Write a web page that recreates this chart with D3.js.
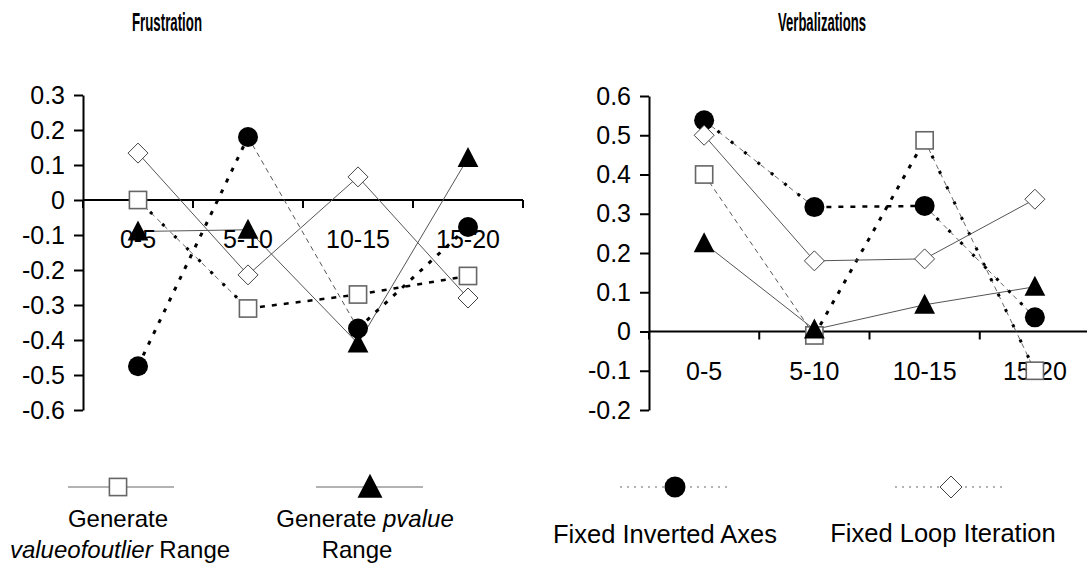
<!DOCTYPE html>
<html>
<head>
<meta charset="utf-8">
<script src="https://cdn.jsdelivr.net/npm/d3@7"></script>
<style>
  body { margin: 0; background: #fff; }
  svg { display: block; font-family: Arial, "Liberation Sans", sans-serif; }
</style>
</head>
<body>
<svg id="chart" width="1087" height="564"></svg>
<script>
const categories = ['0-5', '5-10', '10-15', '15-20'];
const seriesNames = ['valueofoutlier', 'pvalue', 'invertedAxes', 'loopIteration'];

// Frustration panel
const frustrationTicks = [0.3, 0.2, 0.1, 0, -0.1, -0.2, -0.3, -0.4, -0.5, -0.6];
const frustrationOutlier = [0, -0.31, -0.27, -0.217];
const frustrationPvalue = [-0.09, -0.085, -0.41, 0.12];
const frustrationInverted = [-0.475, 0.18, -0.367, -0.077];
const frustrationLoop = [0.134, -0.214, 0.066, -0.28];

// Verbalizations panel
const verbalTicks = [0.6, 0.5, 0.4, 0.3, 0.2, 0.1, 0, -0.1, -0.2];
const verbalOutlier = [0.40, -0.01, 0.487, -0.1];
const verbalPvalue = [0.225, 0.005, 0.068, 0.114];
const verbalInverted = [0.538, 0.317, 0.32, 0.036];
const verbalLoop = [0.50, 0.18, 0.185, 0.337];

// line style of each segment, per series (from the picture)
const frustrationSegs = [['mix', 'boldDash', 'boldDash'], ['solid', 'solid', 'solid'], ['dot', 'dash', 'dot'], ['solid', 'solid', 'solid']];
const verbalSegs = [['dash', 'dot', 'mix'], ['solid', 'solid', 'solid'], ['mix', 'boldDash', 'mix'], ['solid', 'solid', 'solid']];

const markers = ['square', 'triangle', 'circle', 'diamond'];

const svg = d3.select('#chart');

let segStyle = {
    solid: [{ stroke: '#555', width: 1, dash: null }],
    dash: [{ stroke: '#555', width: 1, dash: '5,4' }],
    dot: [{ stroke: '#000', width: 3, dash: '4,8' }],
    boldDash: [{ stroke: '#000', width: 2.5, dash: '5,7' }],
    mix: [{ stroke: '#666', width: 1, dash: '5,4' }, { stroke: '#000', width: 3, dash: '3,14' }]
};

let drawMarker = (g, type, x, y, s) => {
    if (type === 'square') {
        g.append('rect').attr('x', x - s * 0.43).attr('y', y - s * 0.43)
            .attr('width', s * 0.86).attr('height', s * 0.86)
            .attr('fill', '#fff').attr('stroke', '#666').attr('stroke-width', 1.6);
    } else if (type === 'triangle') {
        let h = s;
        g.append('path')
            .attr('d', `M${x},${y - h * 0.55}L${x + s * 0.52},${y + h * 0.45}L${x - s * 0.52},${y + h * 0.45}Z`)
            .attr('fill', '#000');
    } else if (type === 'circle') {
        g.append('circle').attr('cx', x).attr('cy', y).attr('r', s / 2).attr('fill', '#000');
    } else {
        let r = s / 2;
        g.append('path')
            .attr('d', `M${x},${y - r}L${x + r},${y}L${x},${y + r}L${x - r},${y}Z`)
            .attr('fill', '#fff').attr('stroke', '#444').attr('stroke-width', 1);
    }
};

let drawPanel = (opts) => {
    let x = d3.scaleBand().domain(categories).range(opts.xRange);
    let y = d3.scaleLinear().domain(opts.yDomain).range(opts.yRange);
    let g = svg.append('g');

    // title (narrow bold face in the original)
    g.append('text')
        .attr('x', opts.titleX).attr('y', 31)
        .attr('text-anchor', 'middle')
        .attr('font-weight', 'bold')
        .attr('font-size', 25)
        .attr('textLength', opts.titleLen)
        .attr('lengthAdjust', 'spacingAndGlyphs')
        .text(opts.title);

    // y axis
    let yAxis = d3.axisLeft(y)
        .tickValues(opts.ticks)
        .tickSize(9)
        .tickSizeOuter(0)
        .tickPadding(9)
        .tickFormat(d => d === 0 ? '0' : String(+d.toFixed(1)));
    let ya = g.append('g')
        .attr('transform', `translate(${opts.xRange[0]},0)`)
        .call(yAxis);
    ya.select('.domain').attr('stroke', '#000').attr('stroke-width', 2);
    ya.selectAll('.tick line').attr('stroke', '#000').attr('stroke-width', 2);
    ya.selectAll('.tick text').attr('font-size', 25).attr('fill', '#000')
        .attr('font-family', 'Arial, "Liberation Sans", sans-serif');

    // x axis at zero, ticks on category boundaries
    let y0 = y(0);
    let bounds = categories.map(c => x(c)).concat([x.range()[1]]);
    g.append('line')
        .attr('x1', opts.xRange[0]).attr('x2', opts.xRange[1])
        .attr('y1', y0).attr('y2', y0)
        .attr('stroke', '#000').attr('stroke-width', 2);
    g.selectAll('.xtick').data(bounds).enter().append('line')
        .attr('x1', d => d).attr('x2', d => d)
        .attr('y1', y0).attr('y2', y0 + 8)
        .attr('stroke', '#000').attr('stroke-width', 2);

    // series lines, segment by segment
    opts.series.forEach((values, si) => {
        for (let i = 0; i < values.length - 1; i++) {
            segStyle[opts.segs[si][i]].forEach(st => {
                g.append('line')
                    .attr('x1', x(categories[i]) + x.bandwidth() / 2)
                    .attr('y1', y(values[i]))
                    .attr('x2', x(categories[i + 1]) + x.bandwidth() / 2)
                    .attr('y2', y(values[i + 1]))
                    .attr('stroke', st.stroke)
                    .attr('stroke-width', st.width)
                    .attr('stroke-dasharray', st.dash);
            });
        }
    });

    // category labels
    g.selectAll('.cat').data(categories).enter().append('text')
        .attr('x', d => x(d) + x.bandwidth() / 2)
        .attr('y', y0 + 48)
        .attr('text-anchor', 'middle')
        .attr('font-size', 25)
        .text(d => d);

    // markers
    opts.series.forEach((values, si) => {
        values.forEach((v, i) => {
            drawMarker(g, markers[si], x(categories[i]) + x.bandwidth() / 2, y(v), 20);
        });
    });
};

drawPanel({
    title: 'Frustration', titleX: 167, titleLen: 70,
    xRange: [83, 523], yDomain: [-0.6, 0.3], yRange: [410, 95],
    ticks: frustrationTicks,
    series: [frustrationOutlier, frustrationPvalue, frustrationInverted, frustrationLoop],
    segs: frustrationSegs
});

drawPanel({
    title: 'Verbalizations', titleX: 822, titleLen: 88,
    xRange: [649, 1090], yDomain: [-0.2, 0.6], yRange: [410, 96],
    ticks: verbalTicks,
    series: [verbalOutlier, verbalPvalue, verbalInverted, verbalLoop],
    segs: verbalSegs
});

// legend
let legend = svg.append('g');
let legendItems = [
    { marker: 'square', size: 20, x: 118, x1: 68, x2: 174, dash: null },
    { marker: 'triangle', size: 24, x: 370, x1: 316, x2: 423, dash: null },
    { marker: 'circle', size: 21, x: 675, x1: 620, x2: 732, dash: '2,5' },
    { marker: 'diamond', size: 22, x: 951, x1: 895, x2: 1007, dash: '2,5' }
];
legendItems.forEach(d => {
    legend.append('line')
        .attr('x1', d.x1).attr('x2', d.x2).attr('y1', 487).attr('y2', 487)
        .attr('stroke', '#666').attr('stroke-width', 1)
        .attr('stroke-dasharray', d.dash);
    drawMarker(legend, d.marker, d.x, 487, d.size);
});

let t1 = legend.append('text').attr('x', 118).attr('y', 527).attr('text-anchor', 'middle').attr('font-size', 24);
t1.text('Generate');
let t1b = legend.append('text').attr('x', 120).attr('y', 558).attr('text-anchor', 'middle').attr('font-size', 24);
t1b.append('tspan').attr('font-style', 'italic').text('valueofoutlier');
t1b.append('tspan').text(' Range');

let t2 = legend.append('text').attr('x', 365).attr('y', 527).attr('text-anchor', 'middle').attr('font-size', 24);
t2.append('tspan').text('Generate ');
t2.append('tspan').attr('font-style', 'italic').text('pvalue');
legend.append('text').attr('x', 357).attr('y', 558).attr('text-anchor', 'middle').attr('font-size', 24).text('Range');

legend.append('text').attr('x', 665).attr('y', 543).attr('text-anchor', 'middle').attr('font-size', 25.5).text('Fixed Inverted Axes');
legend.append('text').attr('x', 943).attr('y', 542).attr('text-anchor', 'middle').attr('font-size', 25.5).text('Fixed Loop Iteration');
</script>
</body>
</html>
